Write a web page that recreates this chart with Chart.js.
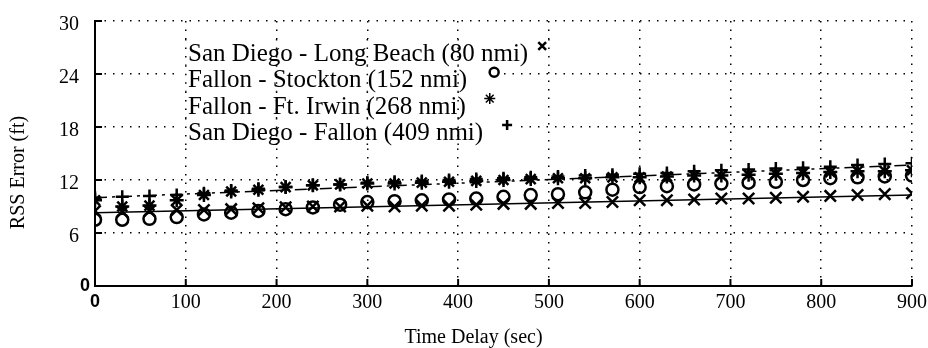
<!DOCTYPE html>
<html>
<head>
<meta charset="utf-8">
<title>RSS Error vs Time Delay</title>
<script src="https://cdn.jsdelivr.net/npm/chart.js@4.4.1/dist/chart.umd.min.js"></script>
<style>
    html, body { margin: 0; padding: 0; background: #fff; }
    #wrap { width: 928px; height: 348px; }
</style>
</head>
<body>
<div id="wrap"><canvas id="rssChart" width="928" height="348"></canvas></div>
<script>
// Time delay (sec), one sample every 30 s
const timeDelay = [0, 30, 60, 90, 120, 150, 180, 210, 240, 270, 300, 330, 360, 390, 420, 450,
    480, 510, 540, 570, 600, 630, 660, 690, 720, 750, 780, 810, 840, 870, 900];

// RSS error (ft) per baseline
const sdLongBeach = [8.5, 8.4, 8.5, 8.6, 8.6, 8.7, 8.8, 8.9, 9.0, 9.0, 9.1, 9.0, 9.1, 9.1, 9.2, 9.3,
    9.3, 9.4, 9.4, 9.5, 9.7, 9.7, 9.8, 9.9, 9.9, 10.0, 10.1, 10.2, 10.3, 10.4, 10.5];
const fallonStockton = [7.5, 7.5, 7.6, 7.8, 8.1, 8.3, 8.5, 8.7, 8.9, 9.2, 9.5, 9.6, 9.7, 9.8, 9.9, 10.1,
    10.3, 10.4, 10.6, 10.9, 11.2, 11.3, 11.5, 11.6, 11.7, 11.8, 12.0, 12.2, 12.3, 12.4, 12.5];
const fallonFtIrwin = [9.7, 9.0, 9.1, 9.7, 10.3, 10.7, 10.9, 11.2, 11.4, 11.5, 11.6, 11.6, 11.7, 11.8, 11.9, 12.0,
    12.1, 12.2, 12.2, 12.3, 12.3, 12.4, 12.5, 12.5, 12.6, 12.7, 12.8, 12.9, 13.0, 13.0, 13.1];
const sdFallon = [10.0, 10.1, 10.2, 10.3, 10.5, 10.8, 11.0, 11.2, 11.4, 11.5, 11.7, 11.8, 11.9, 12.0, 12.1, 12.2,
    12.3, 12.4, 12.5, 12.6, 12.7, 12.8, 13.0, 13.1, 13.2, 13.3, 13.4, 13.5, 13.7, 13.8, 13.9];

// straight trend lines (end points)
const fitTimes = [0, 900];
const fitLow = [8.3, 10.3];
const fitHigh = [10.0, 13.7];

const legendNames = [
    'San Diego - Long Beach (80 nmi)',
    'Fallon - Stockton (152 nmi)',
    'Fallon - Ft. Irwin (268 nmi)',
    'San Diego - Fallon (409 nmi)'
];

const xTicks = [0, 100, 200, 300, 400, 500, 600, 700, 800, 900];
const yTicks = [0, 6, 12, 18, 24, 30];

const SERIF = '"Liberation Serif", "Times New Roman", serif';
const GRID_DASH = [1.5, 7];

function toPoints(xs, ys) {
    return xs.map((x, i) => ({ x: x, y: ys[i] }));
}

function markerSet(label, values, style, radius) {
    return {
        label: label,
        data: toPoints(timeDelay, values),
        showLine: false,
        pointStyle: style,
        pointRadius: radius,
        pointBorderWidth: 2.5,
        borderColor: '#000',
        backgroundColor: 'rgba(0,0,0,0)'
    };
}

// small tick marks pointing into the plot
const innerTicks = {
    id: 'innerTicks',
    afterDraw(chart) {
        const { ctx, chartArea, scales } = chart;
        ctx.save();
        ctx.strokeStyle = '#000';
        ctx.lineWidth = 2;
        scales.x.ticks.forEach(t => {
            if (t.value === 0) return;
            const px = scales.x.getPixelForValue(t.value);
            ctx.beginPath();
            ctx.moveTo(px, chartArea.bottom);
            ctx.lineTo(px, chartArea.bottom - 7);
            ctx.stroke();
        });
        scales.y.ticks.forEach(t => {
            if (t.value === 0) return;
            const py = scales.y.getPixelForValue(t.value);
            ctx.beginPath();
            ctx.moveTo(chartArea.left, py);
            ctx.lineTo(chartArea.left + 7, py);
            ctx.stroke();
        });
        ctx.restore();
    }
};

// legend text with its marker to the right, inside the plot
const legendGaps = [14, 27, 24, 24];
const legendSizes = [5.5, 4.5, 5.5, 5];
const legendWidths = [2.5, 2.5, 1.5, 2.5];
const textLegend = {
    id: 'textLegend',
    beforeDatasetsDraw(chart) {
        // blank the horizontal grid behind each legend row, keep vertical grid dots
        const { ctx, chartArea, scales } = chart;
        const left = chartArea.left + 93;
        let baseline = chartArea.top + 40;
        ctx.save();
        ctx.font = '25px ' + SERIF;
        legendNames.forEach((name, i) => {
            const w = ctx.measureText(name).width;
            const x0 = left - 10;
            const x1 = left + w + legendGaps[i] + 8;
            ctx.fillStyle = '#fff';
            ctx.fillRect(x0, baseline - 22, x1 - x0, 27);
            ctx.strokeStyle = '#000';
            ctx.lineWidth = 1.5;
            ctx.setLineDash(GRID_DASH);
            xTicks.forEach(v => {
                const px = scales.x.getPixelForValue(v);
                if (px < x0 || px > x1) return;
                ctx.beginPath();
                ctx.moveTo(px, baseline - 22);
                ctx.lineTo(px, baseline + 5);
                ctx.stroke();
            });
            ctx.setLineDash([]);
            baseline += 26.3;
        });
        ctx.restore();
    },
    afterDatasetsDraw(chart) {
        const ctx = chart.ctx;
        const left = chart.chartArea.left + 93;
        let baseline = chart.chartArea.top + 40;
        ctx.save();
        ctx.font = '25px ' + SERIF;
        ctx.textBaseline = 'alphabetic';
        legendNames.forEach((name, i) => {
            const ds = chart.data.datasets[i];
            ctx.fillStyle = '#000';
            ctx.fillText(name, left, baseline);
            const w = ctx.measureText(name).width;
            ctx.strokeStyle = '#000';
            ctx.fillStyle = 'rgba(0,0,0,0)';
            ctx.lineWidth = legendWidths[i];
            Chart.helpers.drawPoint(ctx, {
                pointStyle: ds.pointStyle, radius: legendSizes[i], rotation: 0, borderWidth: legendWidths[i]
            }, left + w + legendGaps[i], baseline - 15);
            baseline += 26.3;
        });
        ctx.restore();
    }
};

// axis titles and the bold origin label
const axisText = {
    id: 'axisText',
    afterDraw(chart) {
        const ctx = chart.ctx;
        const area = chart.chartArea;
        ctx.save();
        ctx.fillStyle = '#000';
        ctx.textAlign = 'center';
        ctx.textBaseline = 'middle';
        ctx.font = '20px ' + SERIF;
        ctx.fillText('Time Delay (sec)', (area.left + area.right) / 2 - 30, 338);
        ctx.save();
        ctx.translate(19, (area.top + area.bottom) / 2 + 19);
        ctx.rotate(-Math.PI / 2);
        ctx.fillText('RSS Error (ft)', 0, 0);
        ctx.restore();
        ctx.font = 'bold 18px "Liberation Sans", Arial, sans-serif';
        ctx.fillText('0', area.left - 10, chart.scales.y.getPixelForValue(0));
        ctx.restore();
    }
};

new Chart(document.getElementById('rssChart'), {
    type: 'scatter',
    data: {
        datasets: [
            markerSet(legendNames[0], sdLongBeach, 'crossRot', 8),
            markerSet(legendNames[1], fallonStockton, 'circle', 6),
            markerSet(legendNames[2], fallonFtIrwin, 'star', 7),
            markerSet(legendNames[3], sdFallon, 'cross', 6.5),
            {
                label: 'fit low',
                data: toPoints(fitTimes, fitLow),
                showLine: true,
                pointRadius: 0,
                borderColor: '#000',
                borderWidth: 1.5
            },
            {
                label: 'fit high',
                data: toPoints(fitTimes, fitHigh),
                showLine: true,
                pointRadius: 0,
                borderColor: '#000',
                borderWidth: 1.5,
                borderDash: [12, 5, 3, 5]
            }
        ]
    },
    options: {
        responsive: false,
        animation: false,
        devicePixelRatio: 1,
        events: [],
        layout: { padding: { top: 21, right: 16, left: 0, bottom: 0 } },
        plugins: {
            legend: { display: false },
            tooltip: { enabled: false }
        },
        scales: {
            x: {
                type: 'linear',
                min: 0,
                max: 900,
                afterBuildTicks: s => { s.ticks = xTicks.map(v => ({ value: v })); },
                afterFit: s => { s.height = 62; s.paddingLeft = 0; s.paddingRight = 0; },
                grid: { color: '#000', lineWidth: 1.5, drawTicks: false },
                border: { display: true, color: '#000', width: 2, dash: GRID_DASH },
                ticks: {
                    color: '#000',
                    padding: 5,
                    maxRotation: 0,
                    font: ctx => (ctx.tick && ctx.tick.value === 0)
                        ? { family: '"Liberation Sans", Arial, sans-serif', weight: 'bold', size: 18 }
                        : { family: SERIF, size: 20 }
                }
            },
            y: {
                type: 'linear',
                min: 0,
                max: 30,
                afterBuildTicks: s => { s.ticks = yTicks.map(v => ({ value: v })); },
                afterFit: s => { s.width = 95; s.paddingTop = 0; s.paddingBottom = 0; },
                grid: { color: '#000', lineWidth: 1.5, drawTicks: false },
                border: { display: true, color: '#000', width: 2, dash: GRID_DASH },
                ticks: {
                    color: '#000',
                    padding: 16,
                    labelOffset: 4,
                    font: { family: SERIF, size: 20 },
                    callback: v => (v === 0 ? '' : String(v))
                }
            }
        }
    },
    plugins: [innerTicks, textLegend, axisText]
});
</script>
</body>
</html>
